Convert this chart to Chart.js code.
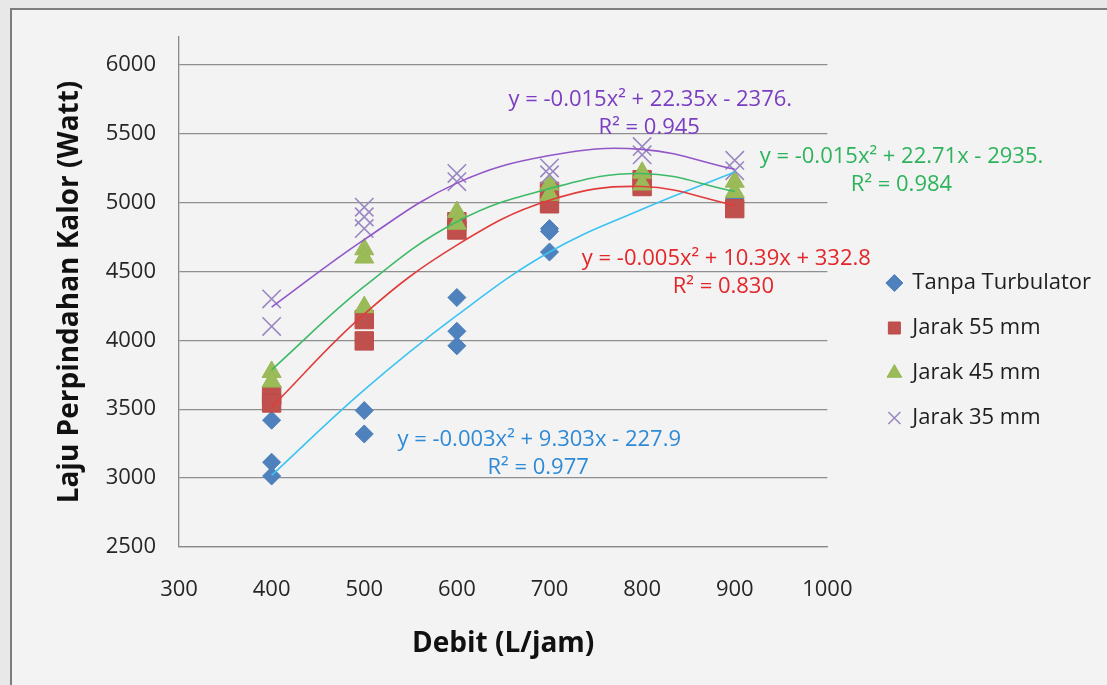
<!DOCTYPE html>
<html><head><meta charset="utf-8">
<script src="https://cdn.jsdelivr.net/npm/chart.js@4.4.1/dist/chart.umd.min.js"></script>
<style>
html,body{margin:0;padding:0;background:#e8e8e8;}
#wrap{position:relative;width:1107px;height:685px;overflow:hidden;}
canvas{display:block;}
</style></head><body>
<div id="wrap"><canvas id="c" width="1107" height="685"></canvas></div>
<script>
// ---- data ----
const seriesNames = ['Tanpa Turbulator', 'Jarak 55 mm', 'Jarak 45 mm', 'Jarak 35 mm'];

const tanpaDebit = [400, 400, 400, 500, 500, 600, 600, 600, 700, 700, 700, 800, 900];
const tanpaKalor = [3420, 3115, 3015, 3490, 3320, 4310, 4065, 3960, 4810, 4790, 4640, 5200, 5030];

const j55Debit = [400, 400, 500, 500, 600, 600, 700, 700, 800, 800, 900];
const j55Kalor = [3600, 3545, 4150, 3995, 4860, 4800, 5080, 4990, 5165, 5115, 4955];

const j45Debit = [400, 400, 500, 500, 500, 600, 600, 700, 700, 800, 800, 900, 900];
const j45Kalor = [3770, 3700, 4660, 4600, 4240, 4930, 4845, 5130, 5055, 5215, 5130, 5150, 5075];

const j35Debit = [400, 400, 500, 500, 500, 600, 600, 700, 700, 800, 800, 900, 900];
const j35Kalor = [4300, 4100, 4965, 4895, 4810, 5210, 5150, 5250, 5200, 5405, 5345, 5305, 5230];

// trend curves (at each debit)
const trendDebit = [400, 500, 600, 700, 800, 900];
const trendTanpa = [3020, 3640, 4180, 4640, 4950, 5220];
const trend55 = [3515, 4190, 4690, 5015, 5115, 4980];
const trend45 = [3785, 4390, 4860, 5100, 5210, 5080];
const trend35 = [4240, 4730, 5140, 5340, 5385, 5240];

// equation labels
const eqTexts = [
  ['y = -0.015x² + 22.35x - 2376.', 'R² = 0.945'],
  ['y = -0.015x² + 22.71x - 2935.', 'R² = 0.984'],
  ['y = -0.005x² + 10.39x + 332.8', 'R² = 0.830'],
  ['y = -0.003x² + 9.303x - 227.9', 'R² = 0.977']
];

const xTicks = [300, 400, 500, 600, 700, 800, 900, 1000];
const yTicks = [2500, 3000, 3500, 4000, 4500, 5000, 5500, 6000];

// ---- presentation ----
const eqPos = [ // [x value, y value] of line centres
  [[808.8, 5743], [807.7, 5540]],
  [[1080, 5329], [1080, 5126]],
  [[890.9, 4589], [887.7, 4386]],
  [[688.9, 3276], [687.8, 3073]]
];
const eqColors = ['#7b3dc1', '#2db35b', '#e2262a', '#2f8ad6'];

const pts = (xs, ys) => xs.map((x, i) => ({x, y: ys[i]}));
const FONT = "'Open Sans', 'Noto Sans', sans-serif";

const framePlugin = {
  id: 'frame',
  beforeDraw(chart) {
    const ctx = chart.ctx;
    ctx.save();
    ctx.fillStyle = '#f3f3f3';
    ctx.fillRect(11, 9, 1107, 685);
    ctx.strokeStyle = '#7d7d7d';
    ctx.lineWidth = 2;
    ctx.beginPath();
    ctx.moveTo(11, 690); ctx.lineTo(11, 9); ctx.lineTo(1110, 9);
    ctx.stroke();
    ctx.restore();
  }
};

const eqPlugin = {
  id: 'eqLabels',
  afterDatasetsDraw(chart) {
    const ctx = chart.ctx, xs = chart.scales.x, ys = chart.scales.y;
    ctx.save();
    ctx.font = "22px " + FONT;
    ctx.textAlign = 'center';
    ctx.textBaseline = 'middle';
    eqTexts.forEach((lines, i) => {
      ctx.fillStyle = eqColors[i];
      lines.forEach((t, j) => {
        const p = eqPos[i][j];
        ctx.fillText(t, xs.getPixelForValue(p[0]), ys.getPixelForValue(p[1]));
      });
    });
    ctx.restore();
  }
};

const markerDs = (label, data, style, radius, bg, border, bw, order) => ({
  label, data, pointStyle: style, pointRadius: radius, pointHoverRadius: radius,
  backgroundColor: bg, borderColor: border, borderWidth: bw, pointBorderWidth: bw, showLine: false, order
});
const trendDs = (data, color, order) => ({
  label: 'trend', data, showLine: true, pointRadius: 0, pointHoverRadius: 0, pointHitRadius: 0,
  borderColor: color, borderWidth: 1.6, tension: 0.4, fill: false, order
});

const chart = new Chart(document.getElementById('c'), {
  type: 'scatter',
  data: {
    datasets: [
      markerDs(seriesNames[0], pts(tanpaDebit, tanpaKalor), 'rectRot', 9, '#4f81bd', '#4a7ebb', 1, 10),
      markerDs(seriesNames[1], pts(j55Debit, j55Kalor), 'rect', 13, '#c0504d', '#bd4b48', 1, 9),
      markerDs(seriesNames[2], pts(j45Debit, j45Kalor), 'triangle', 11, '#9bbb59', '#97b855', 1, 8),
      markerDs(seriesNames[3], pts(j35Debit, j35Kalor), 'crossRot', 13, '#9a88c2', '#9a88c2', 1.6, 7),
      trendDs(pts(trendDebit, trendTanpa), '#3cc3f2', 4),
      trendDs(pts(trendDebit, trend55), '#e03c3c', 3),
      trendDs(pts(trendDebit, trend45), '#3dba68', 2),
      trendDs(pts(trendDebit, trend35), '#9257c9', 1)
    ]
  },
  options: {
    responsive: false,
    animation: false,
    events: [],
    devicePixelRatio: 1,
    layout: { padding: { top: 37, left: 0, right: 6, bottom: 21 } },
    scales: {
      x: {
        type: 'linear', position: 'bottom', min: 300, max: 1000,
        afterBuildTicks: s => { s.ticks = xTicks.map(v => ({value: v})); },
        ticks: { stepSize: 100, padding: 22, color: '#262626', font: { family: FONT, size: 22 }, callback: v => String(v) },
        grid: { display: false },
        border: { display: true, color: '#8a8a8a', width: 1.3 },
        title: { display: true, text: 'Debit (L/jam)', color: '#111', font: { family: FONT, size: 28, weight: 'bold' }, padding: { top: 0, bottom: 3 } },
        afterFit: s => { s.height = 117; }
      },
      y: {
        type: 'linear', position: 'left', min: 2500, max: 6200,
        afterBuildTicks: s => { s.ticks = yTicks.map(v => ({value: v})); },
        ticks: { stepSize: 500, includeBounds: false, padding: 23, color: '#262626', font: { family: FONT, size: 22 }, callback: v => String(v) },
        grid: { display: true, drawTicks: false, color: '#8f8f8f', lineWidth: 1.3 },
        border: { display: true, color: '#8a8a8a', width: 1.3 },
        title: { display: true, text: 'Laju Perpindahan Kalor (Watt)', color: '#111', font: { family: FONT, size: 28, weight: 'bold' }, padding: { top: 53, bottom: 0 } },
        afterFit: s => { s.width = 179; }
      },
      gap: {
        type: 'linear', position: 'right', display: true,
        ticks: { display: false }, grid: { display: false }, border: { display: false },
        afterFit: s => { s.width = 37; }
      }
    },
    plugins: {
      tooltip: { enabled: false },
      legend: {
        position: 'right', align: 'center', maxWidth: 400,
        labels: {
          usePointStyle: true, boxWidth: 14, boxHeight: 12, padding: 23,
          color: '#1e1e1e', font: { family: FONT, size: 22 },
          filter: item => item.datasetIndex < 4,
          sort: (a, b) => a.datasetIndex - b.datasetIndex
        }
      }
    }
  },
  plugins: [framePlugin, eqPlugin]
});

// place the legend so its text starts where the reference has it
for (let k = 0; k < 3; k++) {
  const dl = chart.legend.left - 864;
  if (Math.abs(dl) < 0.5) break;
  chart.options.layout.padding.right += dl;
  chart.update('none');
}
</script>
</body></html>
